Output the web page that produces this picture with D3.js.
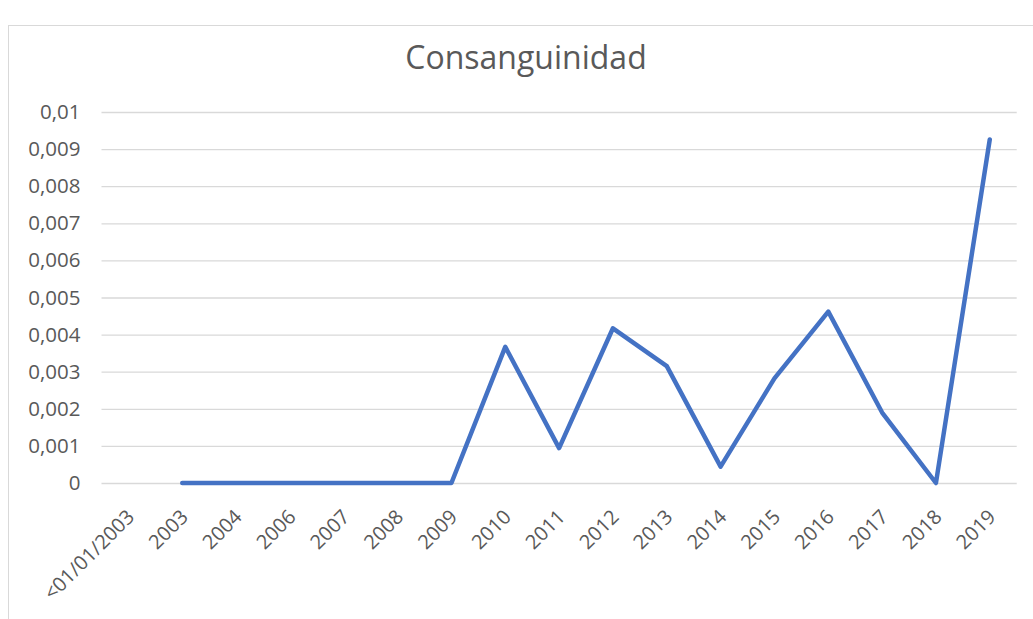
<!DOCTYPE html>
<html>
<head>
<meta charset="utf-8">
<script src="https://cdn.jsdelivr.net/npm/d3@7"></script>
<style>
  body { margin: 0; background: #fff; }
  svg { font-family: "Open Sans", "Noto Sans", sans-serif; }
</style>
</head>
<body>
<svg id="chart" width="1033" height="619"></svg>
<script>
// chart data
var categories = ['<01/01/2003', '2003', '2004', '2006', '2007', '2008', '2009', '2010', '2011',
                  '2012', '2013', '2014', '2015', '2016', '2017', '2018', '2019'];
var values = [null, 0, 0, 0, 0, 0, 0, 0.00367, 0.00094, 0.00417, 0.00315, 0.00044,
              0.00282, 0.00462, 0.0019, 0, 0.00926];
var yTicks = [0, 0.001, 0.002, 0.003, 0.004, 0.005, 0.006, 0.007, 0.008, 0.009, 0.01];
var title = 'Consanguinidad';

var svg = d3.select('#chart');

// chart frame
svg.append('rect')
    .attr('x', 8.5).attr('y', 25.5)
    .attr('width', 1040).attr('height', 620)
    .attr('fill', 'none').attr('stroke', '#d9d9d9').attr('stroke-width', 1);

var plotLeft = 101.5, plotRight = 1016.7, plotTop = 112, plotBottom = 483;

var x = d3.scaleBand().domain(categories).range([plotLeft, plotRight]);
var y = d3.scaleLinear().domain([0, 0.01]).range([plotBottom, plotTop]);

var fmt = function (d) { return d == 0 ? '0' : String(+d.toFixed(3)).replace('.', ','); };

// grid + y labels
var yAxis = svg.append('g').attr('transform', 'translate(' + plotLeft + ',0)')
    .call(d3.axisLeft(y).tickValues(yTicks).tickFormat(fmt).tickSize(-(plotRight - plotLeft)).tickPadding(21));
yAxis.attr('font-family', null).attr('font-size', null);
yAxis.select('.domain').remove();
yAxis.selectAll('.tick line').attr('stroke', '#d9d9d9').attr('stroke-width', 1.3);
yAxis.selectAll('.tick text').attr('fill', '#595959').attr('font-size', 20.5);

// x labels
var xAxis = svg.append('g').attr('transform', 'translate(0,' + plotBottom + ')')
    .call(d3.axisBottom(x).tickSize(0));
xAxis.attr('font-family', null).attr('font-size', null);
xAxis.select('.domain').remove();
xAxis.selectAll('.tick text')
    .attr('fill', '#595959').attr('font-size', 20)
    .attr('text-anchor', 'end')
    .attr('dy', 0)
    .attr('transform', 'translate(5,33) rotate(-45)');

// line
var line = d3.line()
    .defined(function (d) { return d.v != null; })
    .x(function (d) { return x(d.c) + x.bandwidth() / 2; })
    .y(function (d) { return y(d.v); });

var pts = categories.map(function (c, i) { return {c: c, v: values[i]}; });
svg.append('path')
    .datum(pts)
    .attr('d', line)
    .attr('fill', 'none')
    .attr('stroke', '#4472c4')
    .attr('stroke-width', 4.5)
    .attr('stroke-linejoin', 'round')
    .attr('stroke-linecap', 'round');

// title
svg.append('text')
    .attr('x', 526).attr('y', 69)
    .attr('text-anchor', 'middle')
    .attr('fill', '#595959')
    .attr('font-size', 32)
    .text(title);
</script>
</body>
</html>
